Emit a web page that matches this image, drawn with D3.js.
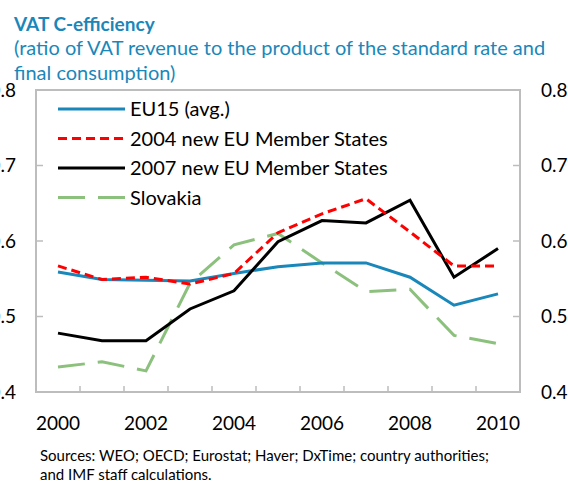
<!DOCTYPE html>
<meta charset='utf-8'>
<style>
  body { margin: 0; background: #fff; }
  text { font-family: Lato, 'Open Sans', sans-serif; }
</style>
<div id='chart'></div>
<script src='https://d3js.org/d3.v7.min.js'></script>
<script>

  var years = [2000, 2001, 2002, 2003, 2004, 2005, 2006, 2007, 2008, 2009, 2010];
  var yearLabels = [2000, 2002, 2004, 2006, 2008, 2010];
  var yTicks = [0.4, 0.5, 0.6, 0.7, 0.8];

  var eu15 = [0.559, 0.549, 0.548, 0.547, 0.557, 0.566, 0.571, 0.571, 0.552, 0.515, 0.530];
  var nms2004 = [0.567, 0.549, 0.552, 0.543, 0.557, 0.611, 0.636, 0.656, 0.612, 0.567, 0.567];
  var nms2007 = [0.478, 0.468, 0.468, 0.510, 0.534, 0.599, 0.627, 0.624, 0.654, 0.552, 0.590];
  var slovakia = [0.433, 0.440, 0.428, 0.544, 0.595, 0.610, 0.571, 0.533, 0.536, 0.475, 0.464];

  var seriesNames = ['EU15 (avg.)', '2004 new EU Member States', '2007 new EU Member States', 'Slovakia'];

  var series = [
    {name: seriesNames[0], values: eu15, color: '#1a87ba', dash: null},
    {name: seriesNames[1], values: nms2004, color: '#ff0000', dash: '9,5'},
    {name: seriesNames[2], values: nms2007, color: '#000000', dash: null},
    {name: seriesNames[3], values: slovakia, color: '#8cc17d', dash: '27,13'}
  ];

  var margin = {top: 90, right: 48, bottom: 89, left: 36},
      width = 568 - margin.left - margin.right,
      height = 481 - margin.top - margin.bottom;

  var root = d3.select('#chart')
    .append('svg')
      .attr('width', 568)
      .attr('height', 481);

  // title + subtitle
  var titleColor = '#1a87ba';
  root.append('text')
    .attr('x', 14).attr('y', 31)
    .style('font-size', '19px').style('font-weight', 'bold')
    .style('fill', titleColor)
    .text('VAT C-efficiency');
  root.append('text')
    .attr('x', 14).attr('y', 55)
    .style('font-size', '20px')
    .style('fill', titleColor)
    .text('(ratio of VAT revenue to the product of the standard rate and');
  root.append('text')
    .attr('x', 14).attr('y', 80)
    .style('font-size', '20px')
    .style('fill', titleColor)
    .text('final consumption)');

  var svg = root.append('g')
    .attr('transform', 'translate(' + margin.left + ',' + margin.top + ')');

  var x = d3.scaleBand()
    .domain(years)
    .range([0, width]);

  var y = d3.scaleLinear()
    .domain([0.4, 0.8])
    .range([height, 0]);

  // frame
  svg.append('rect')
    .attr('width', width)
    .attr('height', height)
    .style('fill', 'none')
    .style('stroke', '#bdbdbd')
    .style('stroke-width', 2);

  // inward ticks at band boundaries (bottom)
  svg.append('g')
    .selectAll('line')
    .data(years.slice(1))
    .enter()
    .append('line')
      .attr('x1', function (d) { return x(d); })
      .attr('x2', function (d) { return x(d); })
      .attr('y1', height)
      .attr('y2', height - 6)
      .style('stroke', '#bdbdbd')
      .style('stroke-width', 1.5);

  // inward ticks on left and right
  var inner = yTicks.slice(1, -1);
  [0, width].forEach(function (xx, i) {
    svg.append('g')
      .selectAll('line')
      .data(inner)
      .enter()
      .append('line')
        .attr('x1', xx)
        .attr('x2', i === 0 ? xx + 7 : xx - 7)
        .attr('y1', function (d) { return y(d); })
        .attr('y2', function (d) { return y(d); })
        .style('stroke', '#bdbdbd')
        .style('stroke-width', 1.5);
  });

  // y labels left + right (left ones run off the edge, as in the original)
  var fmt = d3.format('.1f');
  svg.append('g')
    .selectAll('text')
    .data(yTicks)
    .enter()
    .append('text')
      .attr('x', -20)
      .attr('y', function (d) { return y(d); })
      .attr('dy', '0.35em')
      .attr('text-anchor', 'end')
      .style('font-size', '19px')
      .text(function (d) { return fmt(d); });
  svg.append('g')
    .selectAll('text')
    .data(yTicks)
    .enter()
    .append('text')
      .attr('x', width + 21)
      .attr('y', function (d) { return y(d); })
      .attr('dy', '0.35em')
      .style('font-size', '19px')
      .text(function (d) { return fmt(d); });

  // x labels
  svg.append('g')
    .selectAll('text')
    .data(yearLabels)
    .enter()
    .append('text')
      .attr('x', function (d) { return x(d) + x.bandwidth() / 2; })
      .attr('y', height + 31)
      .attr('dy', '0.35em')
      .attr('text-anchor', 'middle')
      .style('font-size', '19px')
      .text(function (d) { return d; });

  // lines
  var line = d3.line()
    .x(function (d, i) { return x(years[i]) + x.bandwidth() / 2; })
    .y(function (d) { return y(d); });

  [3, 0, 2, 1].forEach(function (k) {
    var s = series[k];
    svg.append('path')
      .datum(s.values)
      .attr('d', line)
      .style('fill', 'none')
      .style('stroke', s.color)
      .style('stroke-width', 3)
      .style('stroke-dasharray', s.dash);
  });

  // legend
  var legend = svg.append('g')
    .attr('transform', 'translate(22,19)');
  series.forEach(function (s, i) {
    var g = legend.append('g')
      .attr('transform', 'translate(0,' + (i * 29.5) + ')');
    g.append('line')
      .attr('x1', 0).attr('x2', 67)
      .style('stroke', s.color)
      .style('stroke-width', 3)
      .style('stroke-dasharray', s.dash);
    g.append('text')
      .attr('x', 72)
      .attr('dy', '0.35em')
      .style('font-size', '20px')
      .text(s.name);
  });

  // sources
  root.append('text')
    .attr('x', 40).attr('y', 461)
    .style('font-size', '15px')
    .text('Sources: WEO; OECD; Eurostat; Haver; DxTime; country authorities;');
  root.append('text')
    .attr('x', 40).attr('y', 480)
    .style('font-size', '15px')
    .text('and IMF staff calculations.');
</script>
